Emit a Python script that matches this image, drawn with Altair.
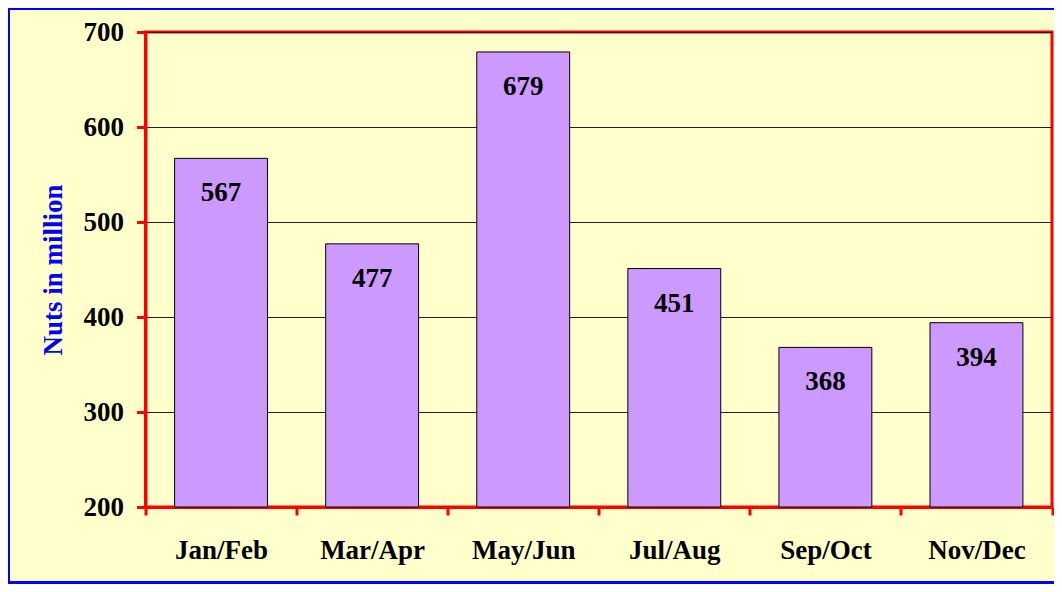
import altair as alt
import pandas as pd

months = ["Jan/Feb", "Mar/Apr", "May/Jun", "Jul/Aug", "Sep/Oct", "Nov/Dec"]
values = [567, 477, 679, 451, 368, 394]
y_ticks = [200, 300, 400, 500, 600, 700]

df = pd.DataFrame({"month": months, "value": values})
FONT = "Liberation Serif"
FS = 27

x_enc = alt.X(
    "month:N",
    sort=months,
    scale=alt.Scale(paddingInner=0, paddingOuter=0),
    axis=alt.Axis(
        title=None,
        labelAngle=0,
        labelFont=FONT,
        labelFontSize=FS,
        labelFontWeight="bold",
        labelColor="black",
        labelBaseline="alphabetic",
        labelPadding=43,
        tickBand="extent",
        tickSize=8,
        tickWidth=3,
        tickColor="red",
        domainColor="red",
        domainWidth=3,
        grid=False,
    ),
)
y_enc = alt.Y(
    "value:Q",
    scale=alt.Scale(domain=[200, 700], zero=False, nice=False),
    axis=alt.Axis(
        values=y_ticks,
        title="Nuts in million",
        titleFont=FONT,
        titleFontSize=FS,
        titleFontWeight="bold",
        titleColor="#0000FF",
        titlePadding=16,
        labelFont=FONT,
        labelFontSize=FS,
        labelFontWeight="bold",
        labelColor="black",
        labelPadding=13,
        tickSize=9,
        tickWidth=3,
        tickColor="red",
        domainColor="red",
        domainWidth=3,
        grid=True,
        gridColor="#222222",
        gridWidth=1,
    ),
)

base = alt.Chart(df)
bars = base.mark_bar(
    color="#CC99FF", stroke="black", strokeWidth=1,
    width=alt.RelativeBandSize(0.615)
).encode(x=x_enc, y=y_enc, y2=alt.datum(200))
labels = base.mark_text(
    font=FONT, fontSize=FS, fontWeight="bold", color="black",
    baseline="middle", dy=35
).encode(x=alt.X("month:N", sort=months), y="value:Q", text="value:Q")

frame = alt.Chart(pd.DataFrame({"a": [0]})).mark_rect(
    fillOpacity=0, stroke="#0000FF", strokeWidth=3, clip=False
).encode(
    x=alt.value(-137), x2=alt.value(940),
    y=alt.value(-23.5), y2=alt.value(550.5)
)

chart = alt.layer(bars, labels, frame).properties(
    width=906.5,
    height=475,
    background="#FFFFCC",
    padding={"left": 137.5, "top": 24, "right": 2, "bottom": 77},
    autosize=alt.AutoSizeParams(type="none"),
).configure_view(
    stroke="red", strokeWidth=3
)

chart.save("out.html", embed_options={"renderer": "svg", "actions": False})
